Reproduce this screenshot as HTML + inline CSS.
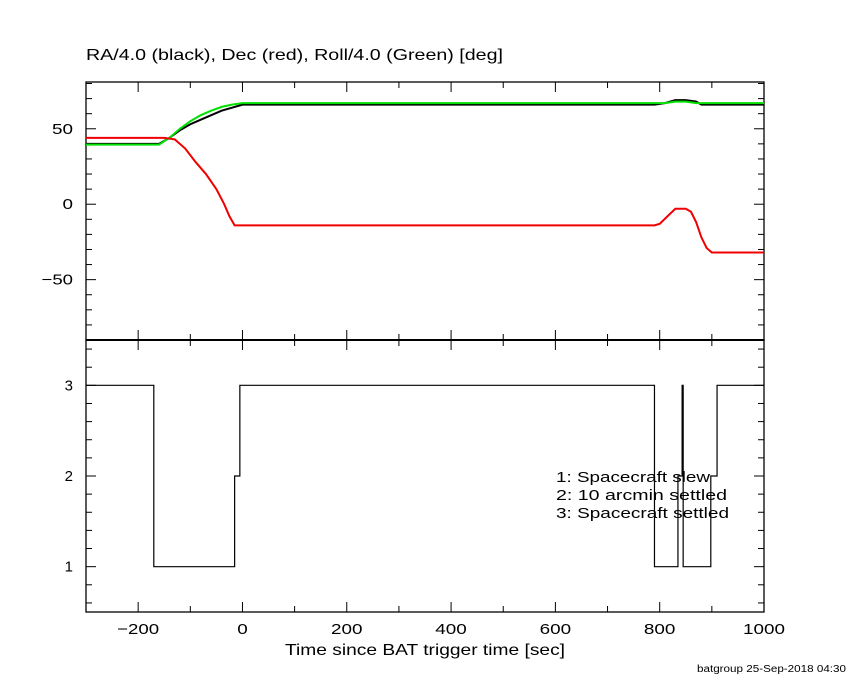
<!DOCTYPE html>
<html><head><meta charset="utf-8"><style>
body{margin:0;background:#fff}
svg text{font-family:"Liberation Sans",sans-serif;fill:#000}
</style></head><body>
<svg id="c" width="850" height="680" viewBox="0 0 850 680" xmlns="http://www.w3.org/2000/svg"></svg>
<script>
const xTicks=[-200,0,200,400,600,800,1000];
const topTicks=[-50,0,50];
const botTicks=[1,2,3];
const tRA=[-300,-160,-140,-120,-100,-80,-60,-40,-20,0,790,810,830,850,870,880,1000];
const vRA=[40,40,44,49,53,56,59,62,64,66,66,67,69,69,68,66,66];
const tRoll=[-300,-160,-140,-120,-100,-80,-60,-40,-20,0,790,810,830,850,870,880,1000];
const vRoll=[39.5,39.5,44,50,55,59,62,64.5,66,67,67,67,68,68,67,67,67];
const tDec=[-300,-150,-130,-110,-90,-70,-50,-35,-25,-15,790,800,815,830,850,860,870,880,890,900,1000];
const vDec=[44,44,43,37,28,20,10,0,-8,-14,-14,-13,-8,-3,-3,-5,-12,-22,-29,-32,-32];
const tStat=[-300,-170,-170,-15,-15,-5,-5,790,790,835,835,843,843,845,845,898,898,910,910,1000];
const vStat=[3,3,1,1,2,2,3,3,1,1,2,2,3,3,1,1,2,2,3,3];
const legendLines=["1: Spacecraft slew","2: 10 arcmin settled","3: Spacecraft settled"];
const legendWidths=[154,171,173];

const L=86,R=764,T1=82,B1=340,T2=340,B2=612;
const X=t=>L+(t+300)/1300*(R-L);
const Y1=v=>T1+(81-v)/171*(B1-T1);
const Y2=v=>T2+(3.5-v)/3*(B2-T2);
const svg=document.getElementById('c');
function el(tag,attrs,txt){const e=document.createElementNS('http://www.w3.org/2000/svg',tag);for(const k in attrs)e.setAttribute(k,attrs[k]);if(txt!==undefined)e.textContent=txt;svg.appendChild(e);return e;}

let f1=el('rect',{x:L,y:T1,width:R-L,height:B1-T1,fill:'none',stroke:'#000','stroke-width':1.3});


let f2=el('rect',{x:L,y:T2,width:R-L,height:B2-T2,fill:'none',stroke:'#000','stroke-width':1.3});


let sep=el('line',{x1:L,x2:R,y1:T2,y2:T2,stroke:'#000','stroke-width':2});



for(let t=-300;t<=1000;t+=100){
  const x=X(t),len=(t%200===0)?10:6;
  [[T1,T1+len],[B1,B1-len],[T2,T2+len],[B2,B2-len]].forEach(([a,b])=>{
    const ln=el('line',{x1:x,x2:x,y1:a,y2:b,stroke:'#000'});
    
    
  });
}
xTicks.forEach(t=>{
  const s=(t<0?'\u2212'+(-t):String(t));
  const tx=el('text',{x:X(t),y:634,'font-size':15,'text-anchor':'middle',textLength:s.length*10.5,lengthAdjust:'spacingAndGlyphs'},s);
  
  
});
for(let v=-90;v<=80;v+=10){
  const y=Y1(v),len=(v%50===0)?10:6;
  [[L,L+len],[R,R-len]].forEach(([a,b])=>{
    const ln=el('line',{x1:a,x2:b,y1:y,y2:y,stroke:'#000'});
    
    
  });
}
topTicks.forEach(v=>{
  const s=(v<0?'\u2212'+(-v):String(v));
  const tx=el('text',{x:73,y:Y1(v)+5,'font-size':15,'text-anchor':'end',textLength:s.length*10.5,lengthAdjust:'spacingAndGlyphs'},s);
  
  
});
for(let i=3;i<=17;i++){
  const v=i/5,y=Y2(v),len=(i%5===0)?10:6;
  [[L,L+len],[R,R-len]].forEach(([a,b])=>{
    const ln=el('line',{x1:a,x2:b,y1:y,y2:y,stroke:'#000'});
    
    
  });
}
botTicks.forEach(v=>{
  const tx=el('text',{x:73,y:Y2(v)+5,'font-size':15,'text-anchor':'end'},String(v));
  
  
});

function line(ts,vs,Y,color,w,name){
  const p=el('polyline',{points:ts.map((t,i)=>X(t)+','+Y(vs[i])).join(' '),fill:'none',stroke:color,'stroke-width':w});
  
  
}
line(tRA,vRA,Y1,'#000',2,'ra-series');
line(tRoll,vRoll,Y1,'#00e000',2,'roll-series');
line(tDec,vDec,Y1,'#f00000',2,'dec-series');
line(tStat,vStat,Y2,'#000',1.2,'status-series');

let ti=el('text',{x:86,y:60,'font-size':16,textLength:417,lengthAdjust:'spacingAndGlyphs'},'RA/4.0 (black), Dec (red), Roll/4.0 (Green) [deg]');


legendLines.forEach((s,i)=>{
  const tx=el('text',{x:556,y:482+18*i,'font-size':15,textLength:legendWidths[i],lengthAdjust:'spacingAndGlyphs'},s);
  
  
});
let xl=el('text',{x:285,y:655,'font-size':16,textLength:280,lengthAdjust:'spacingAndGlyphs'},'Time since BAT trigger time [sec]');


let ft=el('text',{x:697,y:672,'font-size':10,textLength:149,lengthAdjust:'spacingAndGlyphs'},'batgroup 25-Sep-2018 04:30');


</script>
</body></html>
